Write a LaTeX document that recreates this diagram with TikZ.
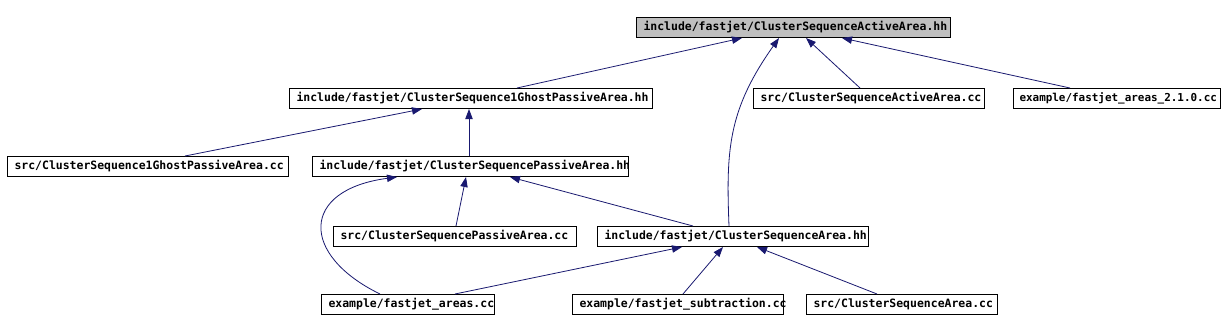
\documentclass[tikz,border=0pt]{standalone}
\usepackage{fontspec}
\setmonofont{DejaVu Sans Mono}
\usetikzlibrary{arrows.meta}
\definecolor{edgecol}{HTML}{191970}
\definecolor{topfill}{HTML}{BFBFBF}
\begin{document}
\begin{tikzpicture}[x=0.75pt,y=-0.75pt,
  box/.style={draw=black, line width=0.75pt, fill=white, inner xsep=5.25pt, inner ysep=0pt,
    minimum height=15pt, anchor=north west, align=left, text height=6.4pt, text depth=1.6pt,
    font=\ttfamily\bfseries\fontsize{8.6}{10}\selectfont},
  edge/.style={draw=edgecol, line width=0.6pt, -{Triangle[length=7.5pt,width=5.5pt]}}]
\useasboundingbox (0,0) rectangle (1222,332);
\fill[white] (0,0) rectangle (1222,332);
% nodes
\node[box, fill=topfill, text width=225pt] (A) at (636,17) {\mbox{include/fastjet/ClusterSequenceActiveArea.hh}};
\node[box, text width=261.75pt] (B) at (289,88) {\mbox{include/fastjet/ClusterSequence1GhostPassiveArea.hh}};
\node[box, text width=162.75pt] (C) at (753,88) {\mbox{src/ClusterSequenceActiveArea.cc}};
\node[box, text width=146.25pt, inner xsep=4.5pt] (D) at (1013,88) {\mbox{\fontsize{8.2}{10}\selectfont example/fastjet\_areas\_2.1.0.cc}};
\node[box, text width=200.25pt] (E) at (7,156) {\mbox{src/ClusterSequence1GhostPassiveArea.cc}};
\node[box, text width=226.5pt] (F) at (312,156) {\mbox{include/fastjet/ClusterSequencePassiveArea.hh}};
\node[box, text width=171.75pt] (G) at (333,226) {\mbox{src/ClusterSequencePassiveArea.cc}};
\node[box, text width=192.75pt] (H) at (597,226) {\mbox{include/fastjet/ClusterSequenceArea.hh}};
\node[box, text width=119.25pt] (I) at (321,294) {\mbox{example/fastjet\_areas.cc}};
\node[box, text width=147.75pt] (J) at (572,294) {\mbox{example/fastjet\_subtraction.cc}};
\node[box, text width=132.75pt] (K) at (806,294) {\mbox{src/ClusterSequenceArea.cc}};
% edges
\draw[edge] (517,0 |- B.north) -- (742,0 |- A.south);
\draw[edge] (729,0 |- H.north) .. controls (726,150) and (728,110) .. (779,0 |- A.south);
\draw[edge] (860,0 |- C.north) -- (806,0 |- A.south);
\draw[edge] (1070,0 |- D.north) -- (842,0 |- A.south);
\draw[edge] (185,0 |- E.north) -- (422,0 |- B.south);
\draw[edge] (469,0 |- F.north) -- (469,0 |- B.south);
\draw[edge] (456,0 |- G.north) -- (466,0 |- F.south);
\draw[edge] (693,0 |- H.north) -- (510,0 |- F.south);
\draw[edge] (380,0 |- I.north) .. controls (300,255) and (300,190) .. (397,0 |- F.south);
\draw[edge] (455,0 |- I.north) -- (682,0 |- H.south);
\draw[edge] (683,0 |- J.north) -- (723,0 |- H.south);
\draw[edge] (877,0 |- K.north) -- (757,0 |- H.south);
\end{tikzpicture}
\end{document}
